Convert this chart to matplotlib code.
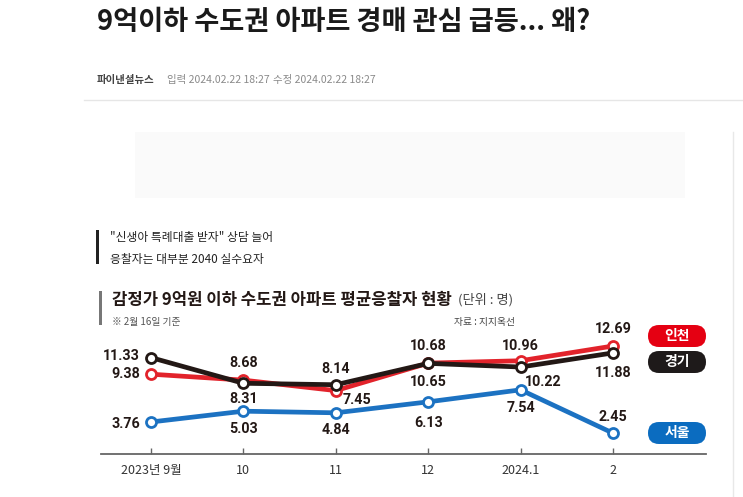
import matplotlib
matplotlib.use("Agg")
import matplotlib.pyplot as plt
from matplotlib.patches import FancyBboxPatch, Rectangle

KR = "Noto Sans CJK KR"
NUM = ["Roboto", KR]

# --- data ---------------------------------------------------------------
months = ["2023년 9월", "10", "11", "12", "2024.1", "2"]
series_names = ["인천", "경기", "서울"]
incheon = [9.38, 8.68, 7.45, 10.68, 10.96, 12.69]
gyeonggi = [11.33, 8.31, 8.14, 10.65, 10.22, 11.88]
seoul = [3.76, 5.03, 4.84, 6.13, 7.54, 2.45]

# --- styling ------------------------------------------------------------
line_colors = ["#e2232b", "#231815", "#1c72c2"]
pill_colors = ["#e50012", "#1e1a1a", "#0b6cc0"]
# label offsets in pixels (dx, dy) per point; dx < 0 means "left of the point"
label_offsets = [
    [(-11, 0), (0, 17), (21, -9), (0, 17), (0, 15), (0, 17)],
    [(-11, 2), (0, -16), (0, 16), (0, -19), (23, -15), (0, -20)],
    [(-11, -2), (0, -18), (0, -17), (0, -21), (0, -18), (0, 16)],
]
pill_y = [336, 362, 433]

W, H = 743, 497
fig = plt.figure(figsize=(W / 100, H / 100), dpi=100)
fig.patch.set_facecolor("white")

# chart axes: value 0 sits on the baseline at y=454px
ax = fig.add_axes([101 / W, (H - 454) / H, 605 / W, 154 / H])
x = list(range(len(months)))
for vals, color, offs in zip([incheon, gyeonggi, seoul], line_colors, label_offsets):
    ax.plot(x, vals, color=color, lw=3.4, marker="o", ms=7.2, mew=2.0,
            mfc="white", mec=color, solid_capstyle="round", zorder=3)
    for xi, v, (dx, dy) in zip(x, vals, offs):
        ha = "right" if dx < 0 else "center"
        ax.annotate(f"{v:.2f}", (xi, v), xytext=(dx, dy), textcoords="offset pixels",
                    ha=ha, va="center", fontsize=10.3, fontweight="bold",
                    family=NUM, color="#231815", zorder=5)

ax.set_xlim(-0.541, 6.006)
ax.set_ylim(0, 154 / 8.51)
ax.set_xticks(x)
ax.set_xticklabels(months, family=KR, fontsize=9, color="#333333")
ax.set_yticks([])
for s in ["top", "right", "left"]:
    ax.spines[s].set_visible(False)
ax.spines["bottom"].set_color("#666666")
ax.spines["bottom"].set_linewidth(1.3)
ax.tick_params(axis="x", direction="in", length=4, width=1, color="#666666", pad=7)
ax.patch.set_alpha(0)

# overlay in pixel coordinates for the page furniture
ov = fig.add_axes([0, 0, 1, 1], zorder=-1)
ov.set_xlim(0, W)
ov.set_ylim(H, 0)
ov.axis("off")

ov.text(97, 22, "9억이하 수도권 아파트 경매 관심 급등... 왜?", family=KR,
        fontsize=19.6, fontweight="bold", color="#1a1a1a", va="center", ha="left")
ov.text(97, 80, "파이낸셜뉴스", family=KR, fontsize=7.5, fontweight="bold",
        color="#444444", va="center")
ov.text(167, 80, "입력 2024.02.22 18:27", family=KR, fontsize=7.5,
        color="#8a8a8a", va="center")
ov.text(273, 80, "수정 2024.02.22 18:27", family=KR, fontsize=7.5,
        color="#8a8a8a", va="center")
ov.plot([84, W], [100, 100], color="#e6e6e6", lw=1)
ov.add_patch(Rectangle((135, 132), 550, 66, color="#fafafa", lw=0))
ov.plot([733, 733], [132, H], color="#e8e8e8", lw=1)

ov.add_patch(Rectangle((96, 230), 3, 34, color="#222222", lw=0))
ov.text(110, 237, "\"신생아 특례대출 받자\" 상담 늘어", family=KR, fontsize=8.5,
        color="#222222", va="center")
ov.text(110, 259, "응찰자는 대부분 2040 실수요자", family=KR, fontsize=8.5,
        color="#222222", va="center")

ov.add_patch(Rectangle((99, 291), 3, 34, color="#777777", lw=0))
ov.text(112, 300, "감정가 9억원 이하 수도권 아파트 평균응찰자 현황", family=KR,
        fontsize=12, fontweight="bold", color="#231815", va="center")
ov.text(458, 300, "(단위 : 명)", family=KR, fontsize=9.5, color="#444444", va="center")
ov.text(112, 322, "※ 2월 16일 기준", family=KR, fontsize=7, color="#555555", va="center")
ov.text(515, 322, "자료 : 지지옥선", family=KR, fontsize=7, color="#444444",
        va="center", ha="right")

for name, color, yc in zip(series_names, pill_colors, pill_y):
    ov.add_patch(FancyBboxPatch((648, yc - 11), 58, 22,
                                boxstyle="round,pad=0,rounding_size=11",
                                fc=color, ec="none"))
    ov.text(677, yc, name, family=KR, fontsize=10, fontweight="bold",
            color="white", ha="center", va="center")

fig.savefig("out.png", dpi=100)
